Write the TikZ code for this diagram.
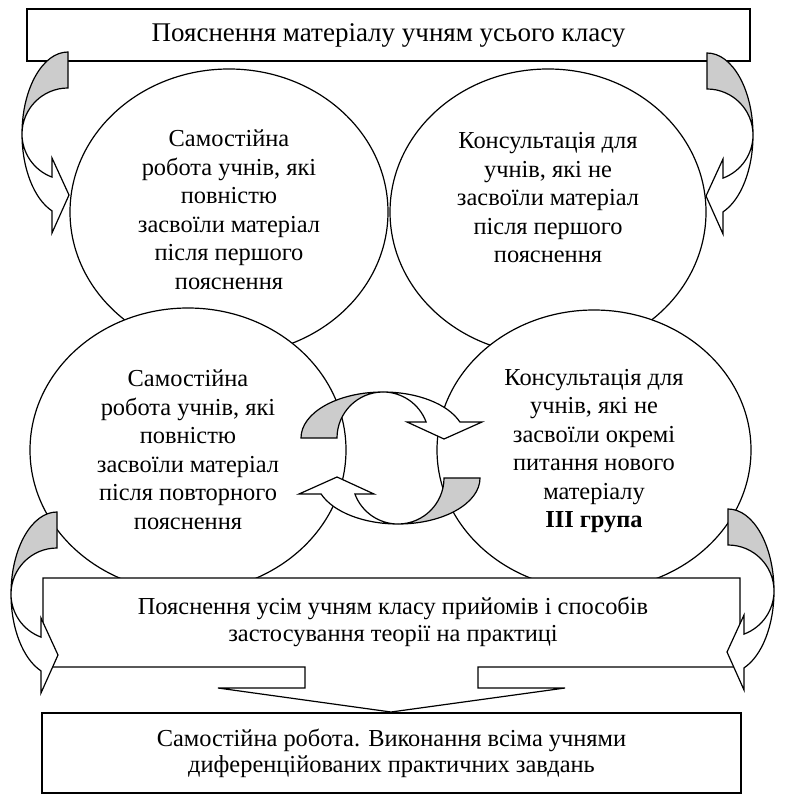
\documentclass[tikz,border=0pt]{standalone}
\usepackage{fontspec}
\setmainfont{Liberation Serif}
\usetikzlibrary{shapes.geometric}

\begin{document}
\begin{tikzpicture}[x=0.5pt, y=-0.5pt, line width=0.6pt,
  font=\fontsize{12.2}{14.25}\selectfont,
  rect/.style={draw, fill=white, align=center, inner sep=0pt},
  oval/.style={draw, fill=white, ellipse, inner sep=0pt, minimum width=#1},
  txt/.style={align=center, inner sep=0pt},
  curvarrow/.pic={
    \filldraw[fill=gray!40] (-82,0) arc[start angle=180, end angle=270, x radius=82, y radius=46]
      arc[start angle=270, end angle=180, radius=46] -- cycle;
    \filldraw[fill=white] (0,-46) arc[start angle=270, end angle=339.65, x radius=82, y radius=46]
      -- (99,-16) -- (61,1) -- (24,-16) -- (43.1,-16)
      arc[start angle=339.65, end angle=270, radius=46] -- cycle;
  }]
\useasboundingbox (0,0) rectangle (792,806);
\node[rect, minimum width=361.5pt, minimum height=26pt, font=\fontsize{13.5}{15}\selectfont] (intro) at (388.5,35) {Пояснення матеріалу учням усього класу};
\node[oval=159pt, minimum height=143pt] (selfA) at (229,212) {};
\node[oval=158pt, minimum height=143pt] (consA) at (548,212) {};
\node[oval=158pt, minimum height=142pt] (selfB) at (188,450) {};
\node[oval=157pt, minimum height=140pt] (consB) at (594,450) {};
\draw[fill=white] (43,578) -- (740,578) -- (740,667) -- (478,667) -- (478,688) -- (565,688)
  -- (391,712) -- (218,688) -- (305,688) -- (305,667) -- (43,667) -- cycle;
\node[rect, minimum width=349.5pt, minimum height=40pt, font=\fontsize{12.2}{13}\selectfont] (tasks) at (391.5,753)
  {Самостійна робота. Виконання всіма учнями\\диференційованих практичних завдань};
\foreach \px/\py/\ax/\ay/\bx/\by in {383/438/0.5/0/0/-0.5, 398/478/-0.5/0/0/0.5,
    68/134/0/-0.5/0.5/0, 57/594/0/-0.5/0.5/0, 707/135/0/-0.5/-0.5/0, 728/591/0/-0.5/-0.5/0}
  \pic[shift={({\px*0.5pt},{-\py*0.5pt})}, x={(\ax pt,\ay pt)}, y={(\bx pt,\by pt)}] {curvarrow};
\node[txt] (selfAtxt) at (229,210) {Самостійна\\робота учнів, які\\повністю\\засвоїли матеріал\\після першого\\пояснення};
\node[txt] (consAtxt) at (548,198) {Консультація для\\учнів, які не\\засвоїли матеріал\\після першого\\пояснення};
\node[txt] (selfBtxt) at (188,450) {Самостійна\\робота учнів, які\\повністю\\засвоїли матеріал\\після повторного\\пояснення};
\node[txt] (consBtxt) at (594,451) {Консультація для\\учнів, які не\\засвоїли окремі\\питання нового\\матеріалу\\\textbf{ІІІ група}};
\node[txt, font=\fontsize{12.2}{13.5}\selectfont] (practice) at (393,622) {Пояснення усім учням класу прийомів і способів\\застосування теорії на практиці};
\end{tikzpicture}
\end{document}
